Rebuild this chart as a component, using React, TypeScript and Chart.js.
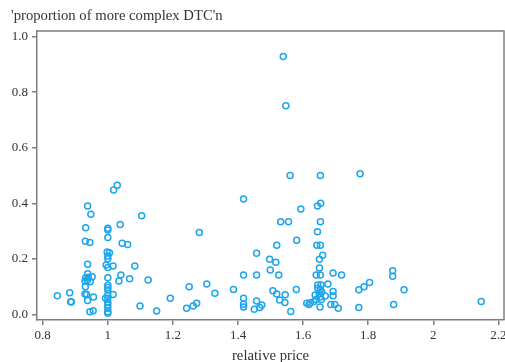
import React, { useEffect, useRef } from "react";
import { Chart, registerables } from "chart.js";

Chart.register(...registerables);

const yTitle = "'proportion of more complex DTC'n";
const xTitle = "relative price";

const relativePrice: number[] = [
  0.845, 0.883, 0.886, 0.888, 0.938, 0.948, 0.932, 0.931, 0.945, 0.938,
  0.938, 0.932, 0.940, 0.952, 0.930, 0.937, 0.946, 0.931, 0.930, 0.935,
  0.956, 0.938, 0.945, 0.955,
  1.000, 1.000, 1.000, 0.998, 1.005, 1.000, 1.000, 0.995, 1.000, 1.016,
  1.000, 1.000, 1.000, 1.000, 0.993, 1.016, 1.000, 1.000, 1.000, 1.000,
  1.000, 1.000, 1.000,
  1.018, 1.029, 1.038, 1.044, 1.061, 1.104, 1.083, 1.040, 1.034, 1.067,
  1.124, 1.099, 1.150, 1.192, 1.242, 1.250, 1.262, 1.273, 1.281, 1.304,
  1.329, 1.386,
  1.417, 1.417, 1.417, 1.417, 1.417, 1.457, 1.497, 1.516, 1.499, 1.457,
  1.457, 1.450, 1.467, 1.473,
  1.539, 1.547, 1.560, 1.653, 1.775, 1.654, 1.644, 1.593, 1.531, 1.555,
  1.653, 1.644, 1.580, 1.519, 1.642, 1.653, 1.660, 1.650, 1.650, 1.525,
  1.640, 1.653, 1.692, 1.718, 1.875, 1.875, 1.804, 1.787, 1.771, 1.910,
  2.147, 1.878, 1.771, 1.676,
  1.645, 1.655, 1.645, 1.653, 1.657, 1.649, 1.637, 1.652, 1.640, 1.656,
  1.622, 1.652,
  1.507, 1.519, 1.545, 1.579, 1.528, 1.544, 1.562, 1.618, 1.633, 1.668,
  1.692, 1.692, 1.685, 1.697, 1.708, 1.611,
];

const proportion: number[] = [
  0.067, 0.078, 0.046, 0.045, 0.390, 0.361, 0.312, 0.263, 0.259, 0.181,
  0.146, 0.132, 0.134, 0.136, 0.120, 0.122, 0.118, 0.100, 0.074, 0.072,
  0.063, 0.050, 0.010, 0.013,
  0.310, 0.304, 0.277, 0.225, 0.222, 0.210, 0.200, 0.178, 0.169, 0.174,
  0.132, 0.105, 0.097, 0.088, 0.058, 0.072, 0.070, 0.058, 0.045, 0.034,
  0.022, 0.010, 0.004,
  0.448, 0.465, 0.324, 0.256, 0.252, 0.355, 0.174, 0.142, 0.120, 0.128,
  0.124, 0.030, 0.012, 0.058, 0.022, 0.100, 0.030, 0.040, 0.295, 0.110,
  0.076, 0.090,
  0.415, 0.142, 0.058, 0.037, 0.027, 0.220, 0.199, 0.188, 0.160, 0.142,
  0.048, 0.019, 0.025, 0.034,
  0.928, 0.751, 0.500, 0.500, 0.506, 0.400, 0.390, 0.379, 0.334, 0.334,
  0.334, 0.298, 0.267, 0.249, 0.249, 0.249, 0.213, 0.199, 0.167, 0.142,
  0.142, 0.142, 0.149, 0.142, 0.157, 0.137, 0.115, 0.100, 0.089, 0.089,
  0.047, 0.036, 0.025, 0.110,
  0.106, 0.106, 0.094, 0.090, 0.081, 0.076, 0.070, 0.063, 0.054, 0.054,
  0.042, 0.027,
  0.085, 0.074, 0.071, 0.090, 0.052, 0.043, 0.011, 0.036, 0.047, 0.066,
  0.083, 0.067, 0.036, 0.036, 0.022, 0.040,
];

const xMin = 0.7825;
const xMax = 2.217;
const yMin = -0.02;
const yMax = 1.02;

const FONT = "'Liberation Serif', 'Times New Roman', serif";
const AXIS_COLOR = "#7f7f7f";
const TEXT_COLOR = "#333333";
const POINT_COLOR = "#1ea6ea";

const frame = {
  id: "frame",
  afterDatasetsDraw(chart: any) {
    const { ctx, chartArea } = chart;
    ctx.save();
    ctx.strokeStyle = AXIS_COLOR;
    ctx.lineWidth = 1.5;
    ctx.beginPath();
    ctx.moveTo(chartArea.left, chartArea.top);
    ctx.lineTo(chartArea.right, chartArea.top);
    ctx.lineTo(chartArea.right, chartArea.bottom);
    ctx.stroke();
    ctx.restore();
  },
};

export default function App() {
  const ref = useRef<HTMLCanvasElement | null>(null);

  useEffect(() => {
    document.body.style.margin = "0";
    if (!ref.current) return;
    const points = relativePrice.map((x, i) => ({ x, y: proportion[i] }));
    const chart = new Chart(ref.current, {
      type: "scatter",
      data: {
        datasets: [
          {
            data: points,
            pointStyle: "circle",
            pointRadius: 3,
            pointBorderWidth: 1.5,
            borderColor: POINT_COLOR,
            backgroundColor: "rgba(0,0,0,0)",
          },
        ],
      },
      options: {
        animation: false,
        responsive: false,
        devicePixelRatio: 1,
        layout: {
          autoPadding: false,
          padding: { left: 11, top: 0, right: 1, bottom: 0 },
        },
        plugins: {
          legend: { display: false },
          tooltip: { enabled: false },
          title: {
            display: true,
            text: yTitle,
            align: "start",
            color: TEXT_COLOR,
            font: { family: FONT, size: 14.7, weight: "normal" },
            padding: { top: 7.2, bottom: 6.16 },
          },
        },
        scales: {
          x: {
            type: "linear",
            min: xMin,
            max: xMax,
            ticks: {
              stepSize: 0.2,
              includeBounds: false,
              color: TEXT_COLOR,
              font: { family: FONT, size: 13 },
              padding: 3,
              maxRotation: 0,
              callback: (v: any) => String(+Number(v).toFixed(1)),
            },
            grid: {
              drawOnChartArea: false,
              drawTicks: true,
              tickLength: 5,
              color: AXIS_COLOR,
              lineWidth: 1.5,
            },
            border: { display: true, color: AXIS_COLOR, width: 1.5 },
            title: {
              display: true,
              text: xTitle,
              color: TEXT_COLOR,
              font: { family: FONT, size: 14.7 },
              padding: { top: 0, bottom: -2.8 },
            },
            afterFit: (scale: any) => {
              scale.height = 42;
              scale.paddingLeft = 0;
              scale.paddingRight = 0;
            },
          },
          y: {
            type: "linear",
            min: yMin,
            max: yMax,
            ticks: {
              stepSize: 0.2,
              includeBounds: false,
              color: TEXT_COLOR,
              font: { family: FONT, size: 13 },
              padding: 4,
              callback: (v: any) => Number(v).toFixed(1),
            },
            grid: {
              drawOnChartArea: false,
              drawTicks: true,
              tickLength: 5,
              color: AXIS_COLOR,
              lineWidth: 1.5,
            },
            border: { display: true, color: AXIS_COLOR, width: 1.5 },
            afterFit: (scale: any) => {
              scale.width = 26;
              scale.paddingTop = 0;
              scale.paddingBottom = 0;
            },
          },
        },
      },
      plugins: [frame],
    });
    return () => chart.destroy();
  }, []);

  return (
    <div style={{ width: 505, height: 362 }}>
      <canvas ref={ref} width={505} height={362} />
    </div>
  );
}
